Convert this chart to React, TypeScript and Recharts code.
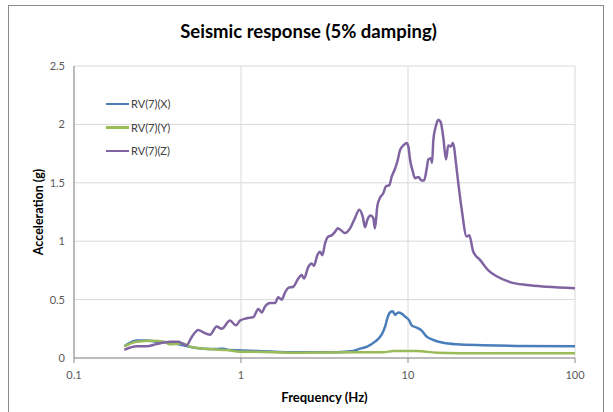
import React from "react";
import { LineChart, Line, XAxis, YAxis, CartesianGrid, Legend, Label } from "recharts";

// Series X (blue)
const xFreq = [0.2, 0.237, 0.272, 0.313, 0.376, 0.451, 0.518, 0.594, 0.715, 0.783, 0.859, 1.132, 1.5, 1.86, 2.5, 3.76, 4.69, 5.16, 5.7, 6.34, 6.95, 7.3, 7.52, 7.8, 8.09, 8.36, 8.75, 9.16, 9.59, 10.18, 10.52, 11.27, 12.08, 12.94, 14.19, 16.26, 19.59, 28.2, 44.8, 100];
const xVals = [0.1, 0.15, 0.15, 0.14, 0.13, 0.11, 0.09, 0.08, 0.077, 0.08, 0.068, 0.063, 0.055, 0.05, 0.05, 0.05, 0.06, 0.08, 0.097, 0.14, 0.2, 0.27, 0.34, 0.39, 0.4, 0.37, 0.39, 0.38, 0.355, 0.32, 0.28, 0.26, 0.234, 0.183, 0.154, 0.13, 0.117, 0.109, 0.103, 0.1];

// Series Y (green)
const yFreq = [0.2, 0.237, 0.298, 0.343, 0.376, 0.403, 0.441, 0.495, 0.568, 0.683, 0.82, 0.986, 1.132, 2.25, 4.5, 7.11, 8.17, 11.27, 14.86, 28.2, 100];
const yVals = [0.1, 0.14, 0.148, 0.14, 0.117, 0.12, 0.126, 0.097, 0.083, 0.074, 0.068, 0.054, 0.054, 0.045, 0.049, 0.049, 0.06, 0.06, 0.045, 0.04, 0.04];

// Series Z (purple)
const zFreq = [0.2, 0.237, 0.272, 0.313, 0.376, 0.422, 0.451, 0.473, 0.507, 0.555, 0.594, 0.652, 0.715, 0.766, 0.859, 0.933, 0.986, 1.082, 1.186, 1.27, 1.33, 1.393, 1.493, 1.6, 1.67, 1.754, 1.834, 1.92, 2.056, 2.203, 2.307, 2.383, 2.53, 2.65, 2.735, 2.864, 2.97, 3.07, 3.184, 3.334, 3.49, 3.656, 3.793, 3.917, 4.197, 4.497, 4.818, 5.105, 5.357, 5.53, 5.7, 5.98, 6.19, 6.34, 6.55, 6.79, 7.11, 7.38, 7.73, 7.98, 8.36, 8.63, 8.96, 9.38, 9.82, 10.05, 10.28, 10.67, 11.01, 11.53, 12.08, 12.47, 12.94, 13.24, 13.68, 13.93, 14.19, 14.72, 15.18, 15.7, 16.26, 16.89, 17.42, 18.03, 18.53, 18.84, 19.37, 20.0, 20.98, 22.46, 23.27, 24.6, 26.98, 30.26, 33.96, 40.8, 51.4, 67.7, 100];
const zVals = [0.07, 0.1, 0.1, 0.12, 0.14, 0.14, 0.12, 0.11, 0.18, 0.24, 0.22, 0.2, 0.27, 0.25, 0.32, 0.28, 0.32, 0.34, 0.35, 0.42, 0.39, 0.44, 0.47, 0.47, 0.52, 0.5, 0.56, 0.6, 0.61, 0.68, 0.71, 0.68, 0.78, 0.81, 0.79, 0.88, 0.91, 0.88, 0.98, 1.04, 1.05, 1.08, 1.11, 1.1, 1.07, 1.11, 1.2, 1.27, 1.21, 1.12, 1.18, 1.22, 1.2, 1.11, 1.3, 1.37, 1.41, 1.47, 1.48, 1.55, 1.62, 1.68, 1.78, 1.82, 1.84, 1.81, 1.7, 1.6, 1.54, 1.55, 1.52, 1.52, 1.62, 1.7, 1.71, 1.67, 1.87, 1.99, 2.04, 2.02, 1.89, 1.7, 1.82, 1.81, 1.84, 1.81, 1.67, 1.5, 1.27, 1.04, 1.05, 0.91, 0.84, 0.75, 0.7, 0.65, 0.625, 0.61, 0.597];

const xTicks = [0.1, 1, 10, 100];
const yTicks = [0, 0.5, 1, 1.5, 2, 2.5];

const seriesNames = ["RV(7)(X)", "RV(7)(Y)", "RV(7)(Z)"];
const seriesColors = ["#4a7ebb", "#9bbb59", "#8064a2"];

const toData = (f: number[], v: number[]) => f.map((fr, i) => ({ f: fr, v: v[i] }));
const dataX = toData(xFreq, xVals);
const dataY = toData(yFreq, yVals);
const dataZ = toData(zFreq, zVals);

const FONT = "Lato, 'Open Sans', sans-serif";

const LegendContent = (props: any) => {
  const payload = props.payload || [];
  return (
    <div style={{ fontFamily: FONT }}>
      {payload.map((p: any, i: number) => (
        <div key={i} style={{ display: "flex", alignItems: "center", height: 23.5 }}>
          <span style={{ display: "inline-block", width: 23, height: 2.5, background: p.color }} />
          <span style={{ fontSize: 11, color: "#404040", marginLeft: 2 }}>{p.value}</span>
        </div>
      ))}
    </div>
  );
};

export default function App() {
  return (
    <div style={{ position: "absolute", left: 0, top: 0, width: 613, height: 412, background: "#fff", fontFamily: FONT }}>
      <div style={{ position: "absolute", left: 8, top: 5, width: 596, height: 410, border: "1px solid #8a8a8a", boxSizing: "border-box" }} />
      <div style={{ position: "absolute", left: 0, top: 20, width: 617, textAlign: "center", fontSize: 18.5, fontWeight: 700, color: "#000" }}>
        Seismic response (5% damping)
      </div>
      <LineChart width={613} height={412} margin={{ top: 66, right: 38, bottom: 14, left: 0 }}>
        <CartesianGrid stroke="#d9d9d9" strokeWidth={1} />
        <XAxis
          type="number"
          dataKey="f"
          scale="log"
          domain={[0.1, 100]}
          ticks={xTicks}
          allowDataOverflow
          height={40}
          stroke="#8a8a8a"
          tickSize={5}
          tickMargin={8}
          tick={{ fontSize: 11, fill: "#595959", fontFamily: FONT }}
        >
          <Label value="Frequency (Hz)" position="insideBottom" offset={-4} style={{ fontSize: 13, fontWeight: 700, fill: "#000", fontFamily: FONT }} />
        </XAxis>
        <YAxis
          type="number"
          domain={[0, 2.5]}
          ticks={yTicks}
          width={74}
          stroke="#8a8a8a"
          tickLine={false}
          tickSize={0}
          tickMargin={9}
          tick={{ fontSize: 11, fill: "#595959", fontFamily: FONT }}
        >
          <Label value="Acceleration (g)" angle={-90} position="insideLeft" offset={39} style={{ fontSize: 12.5, fontWeight: 700, fill: "#000", fontFamily: FONT, textAnchor: "middle" }} />
        </YAxis>
        <Legend
          layout="vertical"
          verticalAlign="middle"
          align="center"
          content={LegendContent}
          wrapperStyle={{ left: 106, top: 92, width: 100 }}
        />
        <Line data={dataX} dataKey="v" name={seriesNames[0]} stroke={seriesColors[0]} strokeWidth={2.5} dot={false} type="monotone" isAnimationActive={false} />
        <Line data={dataY} dataKey="v" name={seriesNames[1]} stroke={seriesColors[1]} strokeWidth={2.5} dot={false} type="monotone" isAnimationActive={false} />
        <Line data={dataZ} dataKey="v" name={seriesNames[2]} stroke={seriesColors[2]} strokeWidth={2.5} dot={false} type="monotone" isAnimationActive={false} />
      </LineChart>
    </div>
  );
}
